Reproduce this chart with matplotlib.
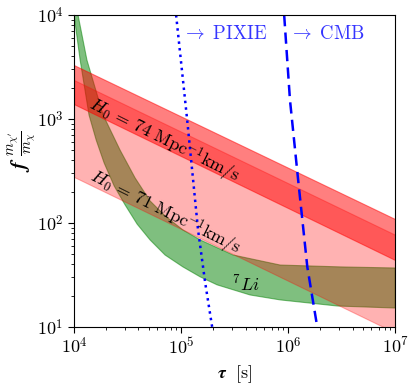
import numpy as np
import matplotlib
matplotlib.use('Agg')
import matplotlib.pyplot as plt
from matplotlib.ticker import FuncFormatter

plt.rcParams['mathtext.fontset'] = 'cm'
plt.rcParams['font.family'] = 'serif'

# %% data
# H0 bands, f*m'/m ~ tau^-1/2 (values at the two ends of the tau range)
tau_band = [1e4, 1e7]
h74_hi = [3300, 109]
h74_lo = [1390, 44]
h71_hi = [2370, 77]
h71_lo = [277, 8.8]

# 7Li band (lower / upper edges)
li_lo_tau = [1.0e4, 1.14e4, 1.38e4, 1.61e4, 1.91e4, 2.37e4, 3.0e4, 3.88e4, 5.13e4,
             7.08e4, 1.04e5, 1.51e5, 2.17e5, 4.41e5, 8.42e5, 2.87e6, 1e7]
li_lo_f   = [1.0e4, 3690, 1093, 628, 378, 227, 149, 97.7, 68.7,
             49.2, 37.8, 30.3, 25.4, 20.3, 18.2, 15.9, 15.2]
li_hi_tau = [1.09e4, 1.32e4, 1.87e4, 2.69e4, 3.72e4, 5.13e4, 7.08e4,
             1.04e5, 1.51e5, 3.06e5, 8.42e5, 3.06e6, 1e7]
li_hi_f   = [1.0e4, 3690, 1093, 503, 271, 163, 117,
             85.7, 68.7, 49.2, 39.4, 37.8, 36.9]

# PIXIE and CMB bounds
pixie_tau = [8.98e4, 1.14e5, 1.44e5, 1.68e5, 1.95e5]
pixie_f   = [1e4, 977, 85.7, 26.5, 10]
cmb_tau = [9.18e5, 1.04e6, 1.24e6, 1.51e6, 1.87e6]
cmb_f   = [1e4, 1524, 259, 37.8, 10]

# %% plot
fig = plt.figure(figsize=(4.16, 3.86), dpi=100)
ax = fig.add_axes([0.178, 0.153, 0.772, 0.808])

# green band first, red bands on top of it
ax.fill(li_hi_tau + li_lo_tau[::-1], li_hi_f + li_lo_f[::-1],
        facecolor='green', edgecolor='green', alpha=0.5, lw=0.8)
ax.fill_between(tau_band, h74_lo, h74_hi, color='red', alpha=0.5, lw=0.8)
ax.fill_between(tau_band, h71_lo, h71_hi, color='red', alpha=0.3, lw=0.8)

ax.plot(pixie_tau, pixie_f, color='blue', ls=':', lw=1.8)
ax.plot(cmb_tau, cmb_f, color='blue', ls=(0, (4.5, 2.5)), lw=1.8)

ax.text(1.02e5, 5880, r'$\rightarrow\ \mathrm{PIXIE}$', color='#3535ff', fontsize=13.5)
ax.text(1.02e6, 5880, r'$\rightarrow\ \mathrm{CMB}$', color='#3535ff', fontsize=13.5)

ax.text(1.32e4, 1276, r'$H_0\,=\,74\ \mathrm{Mpc}^{-1}\mathrm{km/s}$', fontsize=13,
        rotation=-26.5, rotation_mode='anchor', ha='left', va='baseline')
ax.text(1.36e4, 259, r'$H_0\,=\,71\ \mathrm{Mpc}^{-1}\mathrm{km/s}$', fontsize=13,
        rotation=-26.5, rotation_mode='anchor', ha='left', va='baseline')
ax.text(4.05e5, 25.4, r'$^7Li$', fontsize=13, ha='center', va='center')

ax.set_xscale('log')
ax.set_yscale('log')
ax.set_xlim(1e4, 1e7)
ax.set_ylim(1e1, 1e4)

fmt = FuncFormatter(lambda v, p: r'$10^{%d}$' % round(np.log10(v)))
ax.xaxis.set_major_formatter(fmt)
ax.yaxis.set_major_formatter(fmt)
ax.tick_params(labelsize=13, direction='out')
ax.tick_params(which='major', length=4)
ax.tick_params(which='minor', length=2.5)

ax.set_xlabel(r'$\boldsymbol{\tau}\ \ \mathrm{[s]}$', fontsize=13, labelpad=4)
ax.set_ylabel(r'$\boldsymbol{f}\ \frac{m_{\chi^\prime}}{m_\chi}$', fontsize=15)
ax.yaxis.set_label_coords(-0.11, 0.565)

fig.savefig('out.png', dpi=100)
